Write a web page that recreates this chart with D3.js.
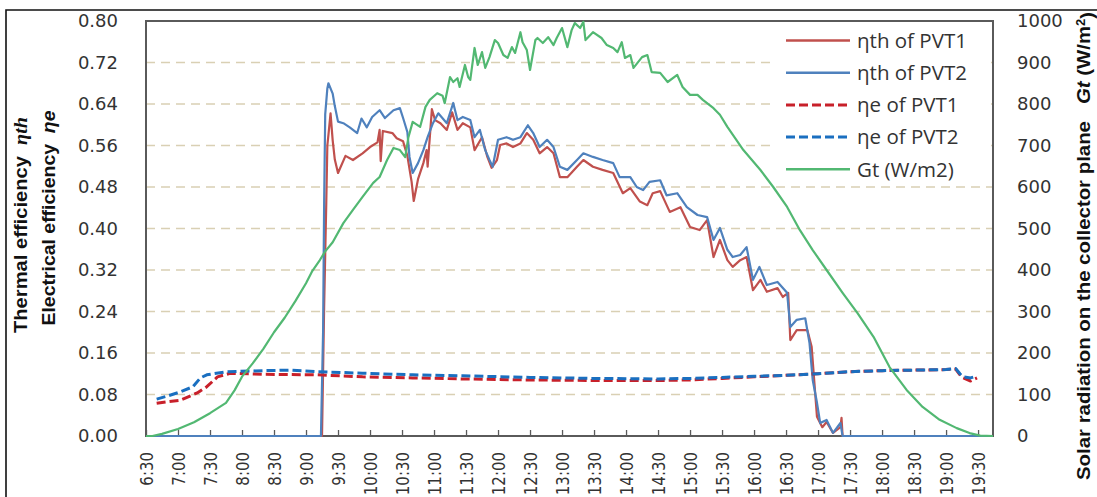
<!DOCTYPE html>
<html>
<head>
<meta charset="utf-8">
<script src="https://cdn.jsdelivr.net/npm/d3@7"></script>
<style>
  body { margin: 0; background: #fff; }
  svg { display: block; }
</style>
</head>
<body>
<svg id="chart" width="1097" height="497"></svg>
<script>
// ---- Data: [time of day, value] ----
// Thermal efficiency, PVT1 and PVT2
const etaThPvt1 = [
  ["6:30",0],["9:15",0],["9:17",0.25],["9:19",0.45],["9:20",0.56],["9:21",0.58],["9:23",0.622],
  ["9:25",0.57],["9:27",0.533],["9:30",0.507],["9:37",0.540],["9:44",0.532],["9:53",0.545],
  ["10:00",0.557],["10:07",0.566],["10:09",0.590],["10:10",0.530],["10:12",0.588],["10:21",0.584],
  ["10:25",0.574],["10:31",0.568],["10:35",0.540],["10:39",0.490],["10:41",0.453],["10:45",0.495],
  ["10:50",0.526],["10:53",0.551],["10:54",0.519],["10:58",0.630],["11:01",0.609],["11:06",0.603],
  ["11:12",0.590],["11:17",0.624],["11:22",0.590],["11:27",0.603],["11:34",0.595],["11:38",0.551],
  ["11:45",0.576],["11:50",0.538],["11:54",0.517],["11:59",0.532],["12:02",0.561],["12:08",0.564],
  ["12:14",0.557],["12:21",0.564],["12:27",0.584],["12:33",0.571],["12:39",0.545],["12:46",0.557],
  ["12:52",0.545],["12:58",0.499],["13:05",0.499],["13:14",0.519],["13:20",0.532],["13:29",0.519],
  ["13:38",0.513],["13:48",0.507],["13:57",0.468],["14:04",0.478],["14:13",0.452],["14:20",0.445],
  ["14:25",0.468],["14:32",0.472],["14:41",0.432],["14:51",0.441],["15:00",0.403],["15:09",0.397],
  ["15:16",0.416],["15:22",0.345],["15:28",0.378],["15:35",0.339],["15:40",0.326],["15:47",0.339],
  ["15:53",0.345],["15:59",0.281],["16:06",0.301],["16:12",0.278],["16:22",0.285],["16:27",0.268],
  ["16:32",0.276],["16:34",0.185],["16:40",0.204],["16:50",0.204],["16:54",0.172],["16:59",0.037],
  ["17:04",0.017],["17:08",0.027],["17:14",0.006],["17:21",0.017],["17:22",0.035],["17:23",0],
  ["19:44",0]
];
const etaThPvt2 = [
  ["6:30",0],["9:14",0],["9:16",0.2],["9:17",0.45],["9:18",0.62],["9:20",0.67],["9:21",0.68],
  ["9:25",0.66],["9:27",0.636],["9:30",0.606],["9:35",0.603],["9:41",0.595],["9:48",0.584],
  ["9:52",0.612],["9:57",0.595],["10:02",0.615],["10:09",0.628],["10:14",0.613],["10:22",0.628],
  ["10:28",0.632],["10:31",0.613],["10:35",0.586],["10:37",0.538],["10:40",0.507],["10:45",0.526],
  ["10:50",0.551],["10:54",0.576],["10:59",0.603],["11:04",0.622],["11:12",0.603],["11:18",0.642],
  ["11:22",0.609],["11:27",0.615],["11:34",0.609],["11:38",0.576],["11:43",0.590],["11:48",0.551],
  ["11:52",0.532],["11:55",0.519],["12:00",0.571],["12:08",0.576],["12:14",0.571],["12:21",0.576],
  ["12:28",0.599],["12:33",0.584],["12:39",0.557],["12:46",0.571],["12:52",0.557],["12:58",0.519],
  ["13:05",0.513],["13:14",0.532],["13:20",0.545],["13:29",0.538],["13:38",0.532],["13:48",0.526],
  ["13:54",0.499],["14:04",0.499],["14:10",0.480],["14:16",0.474],["14:22",0.490],["14:32",0.493],
  ["14:38",0.464],["14:48",0.468],["14:57",0.441],["15:07",0.426],["15:16",0.422],["15:22",0.378],
  ["15:28",0.401],["15:35",0.359],["15:40",0.345],["15:47",0.349],["15:53",0.364],["15:59",0.301],
  ["16:05",0.326],["16:12",0.291],["16:22",0.297],["16:31",0.276],["16:34",0.210],["16:40",0.224],
  ["16:48",0.227],["16:52",0.179],["16:55",0.108],["16:59",0.064],["17:02",0.025],["17:08",0.031],
  ["17:14",0.006],["17:21",0.025],["17:23",0],["19:44",0]
];

// Electrical efficiency, PVT1 and PVT2
const etaEPvt1 = [
  ["6:40",0.063],["6:50",0.066],["7:02",0.069],["7:18",0.083],["7:27",0.095],["7:37",0.114],
  ["7:49",0.121],["8:20",0.119],["9:10",0.118],["9:53",0.114],["10:40",0.112],["11:27",0.110],
  ["12:30",0.108],["13:30",0.107],["14:30",0.107],["15:00",0.108],["15:30",0.111],["16:00",0.114],
  ["16:30",0.117],["17:00",0.120],["17:30",0.124],["18:00",0.126],["18:30",0.127],["19:00",0.128],
  ["19:09",0.129],["19:13",0.118],["19:16",0.112],["19:23",0.106],["19:29",0.112]
];
const etaEPvt2 = [
  ["6:40",0.071],["6:50",0.077],["7:02",0.085],["7:14",0.095],["7:21",0.112],["7:27",0.118],
  ["7:46",0.124],["8:20",0.126],["8:45",0.127],["9:10",0.124],["9:53",0.121],["10:40",0.118],
  ["11:27",0.116],["12:30",0.113],["13:30",0.111],["14:30",0.110],["15:00",0.111],["15:30",0.113],
  ["16:00",0.115],["16:30",0.117],["17:00",0.120],["17:30",0.124],["18:00",0.126],["18:30",0.127],
  ["19:00",0.128],["19:09",0.130],["19:13",0.120],["19:16",0.114],["19:23",0.112],["19:29",0.116]
];

// Solar radiation on the collector plane, W/m2
const gtRadiation = [
  ["6:30",0],["6:36",0],["6:45",5],["7:00",17],["7:15",33],["7:30",55],["7:45",80],["7:53",110],
  ["8:00",143],["8:10",175],["8:20",210],["8:30",250],["8:40",285],["8:50",325],["9:00",368],
  ["9:06",398],["9:13",424],["9:18",445],["9:25",467],["9:35",513],["9:44",545],["9:53",576],
  ["10:03",610],["10:09",624],["10:16",665],["10:22",694],["10:28",689],["10:33",672],["10:36",720],
  ["10:40",757],["10:47",745],["10:52",793],["10:56",810],["11:03",826],["11:08",820],["11:10",802],
  ["11:15",865],["11:18",853],["11:22",862],["11:24",841],["11:29",894],["11:32",865],["11:34",858],
  ["11:38",935],["11:41",894],["11:45",925],["11:48",887],["11:52",913],["11:57",954],["12:00",947],
  ["12:05",918],["12:09",911],["12:13",937],["12:16",923],["12:21",973],["12:23",949],["12:27",930],
  ["12:30",882],["12:35",954],["12:37",959],["12:42",947],["12:47",961],["12:52",942],["12:55",959],
  ["13:00",983],["13:05",937],["13:09",978],["13:12",995],["13:17",983],["13:20",998],["13:22",954],
  ["13:29",973],["13:37",959],["13:42",942],["13:48",935],["13:52",925],["13:56",949],["13:59",911],
  ["14:04",918],["14:07",887],["14:15",913],["14:20",918],["14:24",877],["14:32",875],["14:39",853],
  ["14:48",870],["14:53",841],["15:00",822],["15:07",822],["15:12",810],["15:22",790],["15:28",774],
  ["15:35",745],["15:50",689],["16:06",641],["16:18",600],["16:31",552],["16:43",496],["16:55",448],
  ["17:08",400],["17:23",345],["17:37",296],["17:52",239],["18:07",166],["18:23",111],["18:38",70],
  ["18:54",39],["19:10",19],["19:22",7],["19:32",1],["19:44",0]
];

// Axis tick values
const timeTicks = ["6:30","7:00","7:30","8:00","8:30","9:00","9:30","10:00","10:30","11:00","11:30",
  "12:00","12:30","13:00","13:30","14:00","14:30","15:00","15:30","16:00","16:30","17:00","17:30",
  "18:00","18:30","19:00","19:30"];
const etaTicks = [0, 0.08, 0.16, 0.24, 0.32, 0.40, 0.48, 0.56, 0.64, 0.72, 0.80];
const gtTicks = [0, 100, 200, 300, 400, 500, 600, 700, 800, 900, 1000];

// ---- Helpers ----
const toMin = s => { const [h, m] = s.split(":").map(Number); return h * 60 + m; };
const fmtTime = v => `${Math.floor(v / 60)}:${String(v % 60).padStart(2, "0")}`;

// ---- Layout ----
const plot = { left: 146, right: 993, top: 21, bottom: 436 };

const x = d3.scaleLinear().domain([toMin("6:30"), toMin("19:44")]).range([plot.left, plot.right]);
const yEta = d3.scaleLinear().domain([0, 0.8]).range([plot.bottom, plot.top]);
const yGt = d3.scaleLinear().domain([0, 1000]).range([plot.bottom, plot.top]);

const svg = d3.select("#chart");

// Outer frame
svg.append("path")
  .attr("d", "M6,497V10H1097")
  .attr("fill", "none").attr("stroke", "#111").attr("stroke-width", 1.6);

// Horizontal gridlines
svg.append("g").selectAll("line")
  .data(etaTicks.filter(v => v > 0 && v < 0.8))
  .join("line")
  .attr("x1", plot.left).attr("x2", plot.right)
  .attr("y1", d => yEta(d)).attr("y2", d => yEta(d))
  .attr("stroke", "#d9d0b4").attr("stroke-width", 1.3)
  .attr("stroke-dasharray", "9,6");

// Plot area border
svg.append("rect")
  .attr("x", plot.left).attr("y", plot.top)
  .attr("width", plot.right - plot.left).attr("height", plot.bottom - plot.top)
  .attr("fill", "none").attr("stroke", "#5a5a5a").attr("stroke-width", 2);

// X axis: inward ticks, vertical labels
const xAxis = d3.axisBottom(x)
  .tickValues(timeTicks.map(toMin))
  .tickFormat(fmtTime)
  .tickSizeInner(-6).tickSizeOuter(0);
const gx = svg.append("g").attr("transform", `translate(0,${plot.bottom})`).call(xAxis);
gx.select(".domain").remove();
gx.selectAll(".tick line").attr("stroke", "#5a5a5a").attr("stroke-width", 1.3);
gx.selectAll(".tick text")
  .attr("x", null).attr("y", null).attr("dy", "0.36em")
  .attr("text-anchor", "end")
  .attr("transform", "translate(0,16) scale(1.2,1) rotate(-90)")
  .attr("fill", "#333")
  .style("font-family", "'DejaVu Sans', sans-serif").style("font-size", "15px");

// Left axis (efficiency)
const gl = svg.append("g").attr("transform", `translate(${plot.left},0)`)
  .call(d3.axisLeft(yEta).tickValues(etaTicks).tickFormat(d3.format(".2f")).tickSize(0).tickPadding(28));
gl.select(".domain").remove();
gl.selectAll(".tick text").attr("fill", "#333")
  .style("font-family", "'DejaVu Sans', sans-serif").style("font-size", "18px");

// Right axis (solar radiation)
const gr = svg.append("g").attr("transform", `translate(${plot.right},0)`)
  .call(d3.axisRight(yGt).tickValues(gtTicks).tickFormat(d3.format("d")).tickSize(0).tickPadding(24));
gr.select(".domain").remove();
gr.selectAll(".tick text").attr("fill", "#333")
  .style("font-family", "'DejaVu Sans', sans-serif").style("font-size", "18px");

// Axis titles
const titleFont = "'Liberation Sans', Arial, sans-serif";
const t1 = svg.append("text")
  .attr("transform", "translate(27,225) rotate(-90)")
  .attr("text-anchor", "middle")
  .attr("textLength", 216).attr("lengthAdjust", "spacingAndGlyphs")
  .style("font-family", titleFont).style("font-size", "18px").style("font-weight", "bold").attr("fill", "#111");
t1.append("tspan").text("Thermal efficiency\u00a0\u00a0");
t1.append("tspan").text("ηth").style("font-style", "italic").style("font-family", "'Liberation Serif', serif");

const t2 = svg.append("text")
  .attr("transform", "translate(55,218) rotate(-90)")
  .attr("text-anchor", "middle")
  .attr("textLength", 215).attr("lengthAdjust", "spacingAndGlyphs")
  .style("font-family", titleFont).style("font-size", "18px").style("font-weight", "bold").attr("fill", "#111");
t2.append("tspan").text("Electrical efficiency\u00a0\u00a0");
t2.append("tspan").text("ηe").style("font-style", "italic");

const t3 = svg.append("text")
  .attr("transform", "translate(1090,246) rotate(-90)")
  .attr("text-anchor", "middle")
  .attr("textLength", 468).attr("lengthAdjust", "spacingAndGlyphs")
  .style("font-family", titleFont).style("font-size", "19px").style("font-weight", "bold").attr("fill", "#111");
t3.append("tspan").text("Solar radiation on the collector plane\u00a0\u00a0\u00a0");
t3.append("tspan").text("Gt").style("font-style", "italic");
t3.append("tspan").text(" (W/m");
t3.append("tspan").text("2").attr("dy", "-0.45em").style("font-size", "12px");
t3.append("tspan").text(")").attr("dy", "0.45em");

// ---- Series ----
const lineEta = d3.line().x(d => x(toMin(d[0]))).y(d => yEta(d[1]));
const lineGt = d3.line().x(d => x(toMin(d[0]))).y(d => yGt(d[1]));

const series = [
  { name: "ηth of PVT1", data: etaThPvt1, gen: lineEta, color: "#c0504d", width: 2.2, dash: null },
  { name: "ηth of PVT2", data: etaThPvt2, gen: lineEta, color: "#4f81bd", width: 2.2, dash: null },
  { name: "ηe of PVT1",  data: etaEPvt1,  gen: lineEta, color: "#c8202a", width: 3,   dash: "9,4" },
  { name: "ηe of PVT2",  data: etaEPvt2,  gen: lineEta, color: "#1a6fc0", width: 3,   dash: "9,4" },
  { name: "Gt (W/m2)",   data: gtRadiation, gen: lineGt, color: "#52b872", width: 2.2, dash: null }
];

const gLines = svg.append("g");
series.forEach(s => {
  gLines.append("path")
    .attr("d", s.gen(s.data))
    .attr("fill", "none")
    .attr("stroke", s.color)
    .attr("stroke-width", s.width)
    .attr("stroke-linejoin", "round")
    .attr("stroke-dasharray", s.dash);
});

// ---- Legend ----
const legend = svg.append("g");
legend.append("rect")
  .attr("x", 774).attr("y", 22).attr("width", 217).attr("height", 159)
  .attr("fill", "#fff");
const rows = legend.selectAll("g.row").data(series).join("g")
  .attr("class", "row")
  .attr("transform", (d, i) => `translate(786,${40.5 + i * 32.2})`);
rows.append("line")
  .attr("x1", 0).attr("x2", 64).attr("y1", 0).attr("y2", 0)
  .attr("stroke", d => d.color)
  .attr("stroke-width", d => d.dash ? 3 : 2.6)
  .attr("stroke-dasharray", d => d.dash);
rows.append("text")
  .attr("x", 71).attr("dy", "0.36em")
  .attr("fill", "#333")
  .style("font-family", "'Open Sans', sans-serif").style("font-size", "20.5px")
  .text(d => d.name);
</script>
</body>
</html>
